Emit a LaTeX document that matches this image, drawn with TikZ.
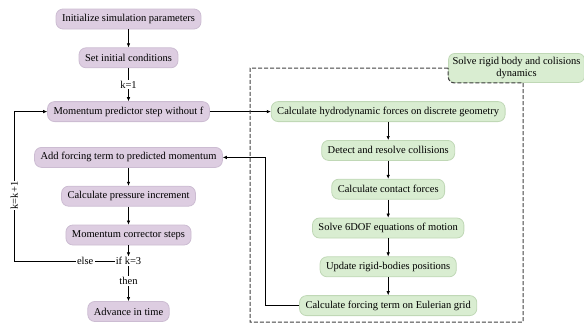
\documentclass[tikz,border=0pt]{standalone}
\usepackage{fontspec}
\setmainfont{Liberation Serif}
\usetikzlibrary{positioning,arrows.meta,calc}
\definecolor{pfill}{RGB}{221,205,225}
\definecolor{pdraw}{RGB}{204,188,210}
\definecolor{gfill}{RGB}{217,237,209}
\definecolor{gdraw}{RGB}{192,216,182}
\tikzstyle{pbox}=[rectangle, rounded corners=7pt, draw=pdraw, fill=pfill, thick,
                  minimum height=20pt, inner xsep=6pt, inner ysep=2pt,
                  font=\fontsize{10.5}{11.5}\selectfont]
\tikzstyle{gbox}=[rectangle, rounded corners=7pt, draw=gdraw, fill=gfill, thick,
                  minimum height=20pt, inner xsep=6pt, inner ysep=2pt,
                  font=\fontsize{10.5}{11.5}\selectfont]
\tikzstyle{plabel}=[fill=white, inner sep=1pt, font=\fontsize{10.5}{11.5}\selectfont]
\tikzstyle{pline}=[-, line width=0.6pt]
\tikzstyle{parrow}=[-{Latex[length=4pt,width=3.5pt]}, line width=0.6pt]
\tikzstyle{fline}=[dashed, dash pattern=on 4pt off 2pt, draw=black!75, line width=1pt]

\begin{document}
\begin{tikzpicture}[x=1pt,y=1pt]
\useasboundingbox (0,0) rectangle (584,-324);

% fluid solver
\node (INIT) [pbox] at (128.5,-19) {Initialize simulation parameters};
\node (SETIC) [pbox,below=18pt of INIT] {Set initial conditions};
 \draw[parrow] (INIT) -- (SETIC);
\node (PRED) [pbox,below=33pt of SETIC] {Momentum predictor step without f};
 \draw[parrow] (SETIC) -- node[plabel] {k=1} (PRED);
\node (ADDF) [pbox,below=25pt of PRED] {Add forcing term to predicted momentum};
\node (PRES) [pbox,below=18pt of ADDF] {Calculate pressure increment};
 \draw[parrow] (ADDF) -- (PRES);
\node (CORR) [pbox,below=18pt of PRES] {Momentum corrector steps};
 \draw[parrow] (PRES) -- (CORR);
\node (IFK) [plabel,below=11pt of CORR] {if k=3};
 \draw[parrow] (CORR) -- (IFK);
\node (THEN) [plabel,below=10pt of IFK] {then};
 \draw[pline] (IFK) -- (THEN);
\node (ADV) [pbox,below=15pt of THEN] {Advance in time};
 \draw[parrow] (THEN) -- (ADV);
\node (ELSE) [plabel,left=20pt of IFK] {else};
 \draw[pline] (IFK) -- (ELSE);
 \draw[parrow] (ELSE.west) -| ([xshift=-33pt]PRED.west)
   node[plabel,rotate=90,pos=0.72] {k=k+1} -- (PRED.west);

% rigid body solver
\node (HYDRO) [gbox,right=61pt of PRED] {Calculate hydrodynamic forces on discrete geometry};
 \draw[parrow] (PRED) -- (HYDRO);
\node (COLL) [gbox,below=18pt of HYDRO] {Detect and resolve collisions};
 \draw[parrow] (HYDRO) -- (COLL);
\node (CONT) [gbox,below=18pt of COLL] {Calculate contact forces};
 \draw[parrow] (COLL) -- (CONT);
\node (SIXDOF) [gbox,below=18pt of CONT] {Solve 6DOF equations of motion};
 \draw[parrow] (CONT) -- (SIXDOF);
\node (UPD) [gbox,below=18pt of SIXDOF] {Update rigid-bodies positions};
 \draw[parrow] (SIXDOF) -- (UPD);
\node (FTERM) [gbox,below=18pt of UPD] {Calculate forcing term on Eulerian grid};
 \draw[parrow] (UPD) -- (FTERM);
 \draw[parrow] (FTERM.west) -| ($(HYDRO.west |- ADDF.east)+(-6pt,0)$) -- (ADDF.east);

% frame
\coordinate (FNW) at (250,-68);
\coordinate (FSE) at (523,-322);
\node (RIGID) [gbox, rounded corners=6pt, align=center, inner xsep=4pt,
  minimum height=29pt, font=\fontsize{10.5}{12}\selectfont] at (516.5,-68)
  {Solve rigid body and colisions\\dynamics};
 \draw[fline] (RIGID.west) -- (FNW) |- (FSE) |- ([xshift=6pt]RIGID.south west)
   arc[start angle=270,end angle=180,radius=6pt] -- (RIGID.west);

\end{tikzpicture}
\end{document}
